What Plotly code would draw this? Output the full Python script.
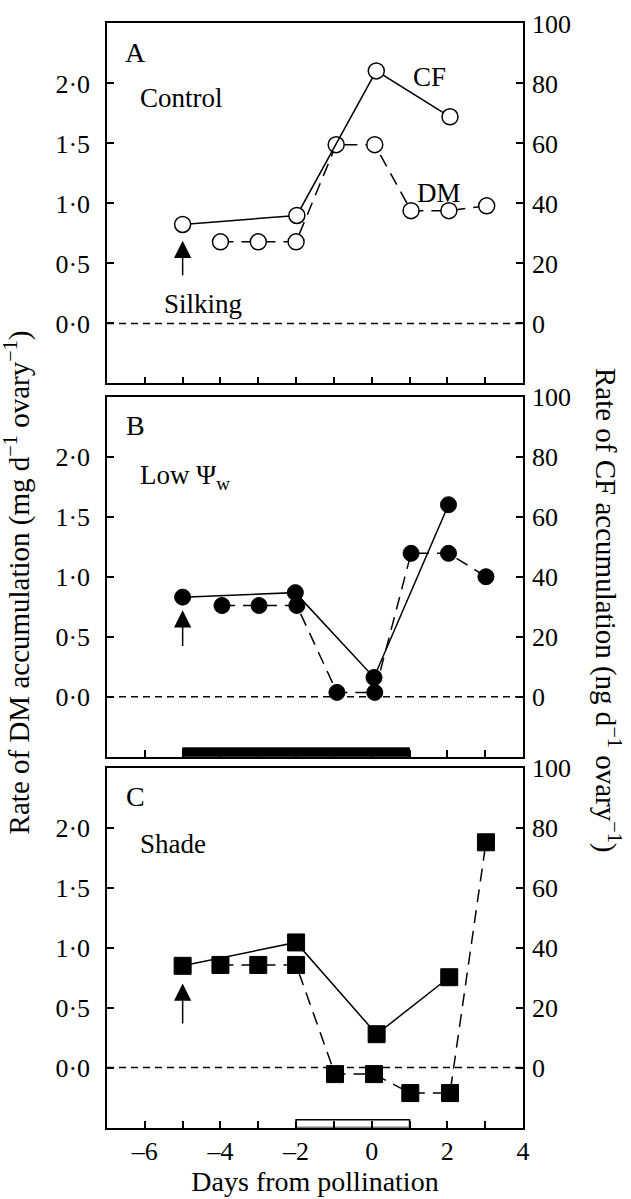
import plotly.graph_objects as go

# ---------------- data ----------------
days_dm_A = [-4, -3, -2, -0.94, 0.08, 1.04, 2.04, 3.04]
dm_A = [0.68, 0.68, 0.68, 1.49, 1.49, 0.94, 0.94, 0.98]
days_cf_A = [-5, -1.98, 0.12, 2.07]
cf_A = [33.0, 36.0, 84.2, 68.9]

days_dm_B = [-3.96, -2.98, -1.98, -0.92, 0.08, 1.04, 2.03, 3.02]
dm_B = [0.76, 0.76, 0.76, 0.036, 0.036, 1.195, 1.195, 1.0]
days_cf_B = [-5, -2.02, 0.06, 2.03]
cf_B = [33.2, 34.7, 6.4, 64.0]

days_dm_C = [-4, -3, -2, -0.97, 0.06, 1.02, 2.07, 3.02]
dm_C = [0.855, 0.855, 0.855, -0.055, -0.055, -0.213, -0.213, 1.877]
days_cf_C = [-5, -2, 0.13, 2.05]
cf_C = [33.9, 41.7, 11.1, 30.1]

dm_tickvals = [0, 0.5, 1.0, 1.5, 2.0]
dm_ticktext = ["0·0", "0·5", "1·0", "1·5", "2·0"]
cf_tickvals = [0, 20, 40, 60, 80, 100]
cf_ticktext = ["0", "20", "40", "60", "80", "100"]
x_tickvals = [-6, -4, -2, 0, 2, 4]
x_ticktext = ["–6", "–4", "–2", "0", "2", "4"]

panel_letters = ["A", "B", "C"]
treatments = ["Control", "Low Ψ<sub>w</sub>", "Shade"]
arrow_tip = [0.69, 0.72, 0.70]
arrow_base = [0.39, 0.41, 0.355]

FONT = "Liberation Serif"
TICKF = dict(family=FONT, size=26, color="black")

fig = go.Figure()

panels = [
    (days_dm_A, dm_A, days_cf_A, cf_A, dict(symbol="circle", color="white", size=16, line=dict(color="black", width=1.5))),
    (days_dm_B, dm_B, days_cf_B, cf_B, dict(symbol="circle", color="black", size=16, line=dict(color="black", width=1))),
    (days_dm_C, dm_C, days_cf_C, cf_C, dict(symbol="square", color="black", size=17, line=dict(color="black", width=1))),
]

for i, (xd, yd, xc, yc, mk) in enumerate(panels):
    xa = "x" if i == 0 else f"x{i+1}"
    yl = "y" if i == 0 else f"y{2*i+1}"
    yr = f"y{2*i+2}"
    # DM (dashed, left axis)
    fig.add_trace(go.Scatter(x=xd, y=yd, xaxis=xa, yaxis=yl, mode="lines",
                             line=dict(color="black", width=1.5, dash="13px,8px"),
                             showlegend=False, hoverinfo="skip"))
    # CF (solid, right axis)
    fig.add_trace(go.Scatter(x=xc, y=yc, xaxis=xa, yaxis=yr, mode="lines",
                             line=dict(color="black", width=1.5),
                             showlegend=False, hoverinfo="skip"))
    fig.add_trace(go.Scatter(x=xd, y=yd, xaxis=xa, yaxis=yl, mode="markers",
                             marker=mk, showlegend=False))
    fig.add_trace(go.Scatter(x=xc, y=yc, xaxis=xa, yaxis=yr, mode="markers",
                             marker=mk, showlegend=False))

# layout geometry (pixels)
W, H = 631, 1199
ml, mr, mt, mb = 107, 108, 9, 68
ph = H - mt - mb
tops = [9.5, 388.5, 765]
bots = [375, 754, 1130.5]

def dom(t, b):
    return [(H - mb - b) / ph, (H - mb - t) / ph]

layout = dict(
    width=W, height=H,
    margin=dict(l=ml, r=mr, t=mt, b=mb, pad=0),
    plot_bgcolor="white", paper_bgcolor="white",
    font=dict(family=FONT, size=26, color="black"),
    showlegend=False,
)

for i in range(3):
    xk = "xaxis" if i == 0 else f"xaxis{i+1}"
    ylk = "yaxis" if i == 0 else f"yaxis{2*i+1}"
    yrk = f"yaxis{2*i+2}"
    yl = "y" if i == 0 else f"y{2*i+1}"
    xa = "x" if i == 0 else f"x{i+1}"
    d = dom(tops[i], bots[i])
    layout[xk] = dict(domain=[0, 1], anchor=yl, range=[-7, 4],
                      showline=True, linecolor="black", linewidth=1.5, mirror=True,
                      ticks="inside", ticklen=7, tickwidth=1.5, tickcolor="black",
                      tickmode="array", tickvals=x_tickvals, ticktext=x_ticktext,
                      minor=dict(tick0=0, dtick=1, ticks="inside", ticklen=7,
                                 tickwidth=1.5, tickcolor="black", showgrid=False),
                      showticklabels=(i == 2), tickfont=TICKF,
                      showgrid=False, zeroline=False)
    layout[ylk] = dict(domain=d, anchor=xa, range=[-0.5, 2.5],
                       showline=True, linecolor="black", linewidth=1.5,
                       ticks="inside", ticklen=7, tickwidth=1.5, tickcolor="black",
                       tickmode="array", tickvals=dm_tickvals, ticktext=dm_ticktext,
                       tickfont=TICKF, ticklabelstandoff=10,
                       showgrid=False, zeroline=False)
    layout[yrk] = dict(domain=d, anchor=xa, overlaying=yl, side="right", range=[-20, 100],
                       showline=True, linecolor="black", linewidth=1.5,
                       ticks="inside", ticklen=7, tickwidth=1.5, tickcolor="black",
                       tickmode="array", tickvals=cf_tickvals, ticktext=cf_ticktext,
                       tickfont=TICKF, ticklabelstandoff=2,
                       showgrid=False, zeroline=False)

layout["xaxis3"]["title"] = dict(text="Days from pollination", font=dict(family=FONT, size=28), standoff=4)

fig.update_layout(**layout)

shapes = []
annos = []
for i in range(3):
    xa = "x" if i == 0 else f"x{i+1}"
    yl = "y" if i == 0 else f"y{2*i+1}"
    # zero line
    shapes.append(dict(type="line", xref=xa, yref=yl, x0=-7, x1=4, y0=0, y1=0,
                       line=dict(color="black", width=1.5, dash="7px,5px"), layer="below"))
    # arrow at silking
    annos.append(dict(x=-5, y=arrow_tip[i], ax=-5, ay=arrow_base[i], xref=xa, yref=yl,
                      axref=xa, ayref=yl, text="", showarrow=True, arrowhead=2,
                      arrowsize=2.3, arrowwidth=1.5, arrowcolor="black", standoff=0))
    # panel letter
    annos.append(dict(x=-6.25, y=2.26, xref=xa, yref=yl, text=panel_letters[i], showarrow=False,
                      font=dict(family=FONT, size=28), xanchor="center", yanchor="middle"))
    # treatment label
    annos.append(dict(x=-6.17, y=[1.88, 1.83, 1.86][i], xref=xa, yref=yl, text=treatments[i],
                      showarrow=False, font=dict(family=FONT, size=27),
                      xanchor="left", yanchor="middle"))

annos.append(dict(x=1.52, y=2.05, xref="x", yref="y", text="CF", showarrow=False,
                  font=dict(family=FONT, size=27)))
annos.append(dict(x=1.78, y=1.09, xref="x", yref="y", text="DM", showarrow=False,
                  font=dict(family=FONT, size=27)))
annos.append(dict(x=-4.47, y=0.16, xref="x", yref="y", text="Silking", showarrow=False,
                  font=dict(family=FONT, size=27)))

# treatment period bars
shapes.append(dict(type="rect", xref="x2", yref="y3", x0=-5, x1=1, y0=-0.5, y1=-0.5 + 9 / 122,
                   fillcolor="black", line=dict(color="black", width=1), layer="below"))
shapes.append(dict(type="rect", xref="x3", yref="y5", x0=-2, x1=1, y0=-0.5, y1=-0.5 + 8 / 122,
                   fillcolor="white", line=dict(color="black", width=1.5), layer="below"))

# axis titles
annos.append(dict(x=(17 - ml) / (W - ml - mr), y=(H - mb - 577) / ph, xref="paper", yref="paper",
                  text="Rate of DM accumulation (mg d<sup>−1</sup> ovary<sup>−1</sup>)",
                  textangle=-90, showarrow=False, font=dict(family=FONT, size=29),
                  xanchor="center", yanchor="middle"))
annos.append(dict(x=(607 - ml) / (W - ml - mr), y=(H - mb - 605) / ph, xref="paper", yref="paper",
                  text="Rate of CF accumulation (ng d<sup>−1</sup> ovary<sup>−1</sup>)",
                  textangle=90, showarrow=False, font=dict(family=FONT, size=29),
                  xanchor="center", yanchor="middle"))

fig.update_layout(shapes=shapes, annotations=annos)

fig.write_html("out.html", config={"displayModeBar": False},
               post_script="document.body.style.margin='0px';")
